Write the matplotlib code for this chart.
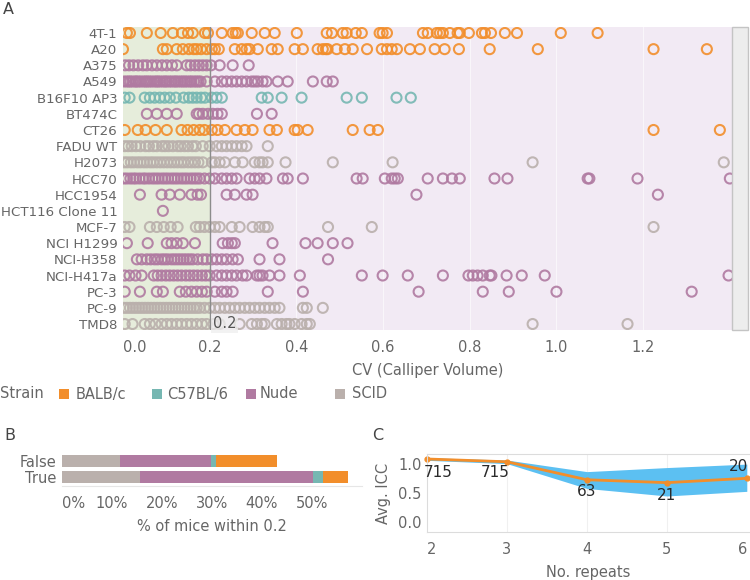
import matplotlib
matplotlib.use("Agg")
import matplotlib.pyplot as plt
from matplotlib.patches import Rectangle

# ---------------------------------------------------------------
# data
cell_lines = ["4T-1", "A20", "A375", "A549", "B16F10 AP3", "BT474C", "CT26",
              "FADU WT", "H2073", "HCC70", "HCC1954", "HCT116 Clone 11",
              "MCF-7", "NCI H1299", "NCI-H358", "NCI-H417a", "PC-3", "PC-9", "TMD8"]
line_strain = ["BALB/c", "BALB/c", "Nude", "Nude", "C57BL/6", "Nude", "BALB/c",
               "SCID", "SCID", "Nude", "Nude", "Nude",
               "SCID", "Nude", "Nude", "Nude", "Nude", "SCID", "SCID"]

cv_4t1 = [0.009, 0.016, 0.055, 0.087, 0.115, 0.136, 0.150, 0.161, 0.189, 0.196, 0.228, 0.253, 0.260,
          0.265, 0.297, 0.327, 0.350, 0.401, 0.470, 0.482, 0.507, 0.516, 0.537, 0.551, 0.592, 0.599,
          0.609, 0.692, 0.703, 0.724, 0.731, 0.738, 0.754, 0.772, 0.777, 0.798, 0.828, 0.835, 0.849,
          0.881, 0.909, 1.010, 1.095]
cv_a20 = [0.000, 0.092, 0.101, 0.124, 0.138, 0.152, 0.163, 0.170, 0.180, 0.193, 0.205, 0.212, 0.221,
          0.258, 0.274, 0.285, 0.292, 0.311, 0.343, 0.357, 0.396, 0.415, 0.449, 0.461, 0.468, 0.472,
          0.493, 0.512, 0.530, 0.563, 0.597, 0.609, 0.620, 0.632, 0.662, 0.685, 0.719, 0.742, 0.775,
          0.846, 0.957, 1.224, 1.347]
cv_a375 = [0.005, 0.014, 0.024, 0.035, 0.046, 0.055, 0.067, 0.078, 0.090, 0.101, 0.113, 0.124, 0.147,
           0.156, 0.166, 0.175, 0.184, 0.193, 0.203, 0.223, 0.253, 0.290]
cv_a549 = [0.002, 0.008, 0.013, 0.017, 0.022, 0.028, 0.031, 0.036, 0.041, 0.047, 0.052, 0.056, 0.061,
           0.066, 0.072, 0.077, 0.081, 0.086, 0.092, 0.097, 0.101, 0.107, 0.112, 0.118, 0.122, 0.127,
           0.133, 0.138, 0.143, 0.148, 0.154, 0.158, 0.164, 0.169, 0.174, 0.179, 0.193, 0.212, 0.228,
           0.239, 0.251, 0.262, 0.274, 0.285, 0.297, 0.304, 0.311, 0.322, 0.331, 0.357, 0.380, 0.438,
           0.470, 0.484]
cv_b16f10 = [0.004, 0.015, 0.050, 0.062, 0.073, 0.085, 0.096, 0.108, 0.122, 0.140, 0.152, 0.161, 0.170,
             0.180, 0.189, 0.205, 0.216, 0.228, 0.320, 0.334, 0.366, 0.412, 0.516, 0.551, 0.631, 0.664]
cv_bt474c = [0.055, 0.078, 0.101, 0.124, 0.170, 0.175, 0.184, 0.196, 0.207, 0.218, 0.228, 0.309, 0.343]
cv_ct26 = [0.004, 0.034, 0.052, 0.075, 0.101, 0.135, 0.149, 0.163, 0.177, 0.188, 0.205, 0.218, 0.235,
           0.262, 0.281, 0.299, 0.338, 0.355, 0.396, 0.403, 0.426, 0.530, 0.569, 0.588, 1.224, 1.377]
cv_fadu = [0.004, 0.012, 0.020, 0.030, 0.040, 0.052, 0.060, 0.070, 0.078, 0.090, 0.097, 0.105, 0.115,
           0.126, 0.133, 0.142, 0.150, 0.160, 0.168, 0.184, 0.200, 0.216, 0.228, 0.239, 0.251, 0.262,
           0.274, 0.285, 0.334]
cv_h2073 = [0.003, 0.010, 0.018, 0.025, 0.033, 0.040, 0.048, 0.055, 0.063, 0.070, 0.078, 0.086, 0.094,
            0.102, 0.110, 0.118, 0.126, 0.134, 0.141, 0.150, 0.158, 0.166, 0.174, 0.184, 0.205, 0.212,
            0.223, 0.235, 0.258, 0.276, 0.304, 0.315, 0.322, 0.334, 0.375, 0.484, 0.622, 0.945, 1.386]
cv_hcc70 = [0.002, 0.009, 0.017, 0.024, 0.030, 0.038, 0.046, 0.052, 0.060, 0.068, 0.075, 0.082, 0.090,
            0.097, 0.104, 0.112, 0.119, 0.126, 0.134, 0.141, 0.148, 0.156, 0.163, 0.170, 0.177, 0.188,
            0.200, 0.212, 0.228, 0.239, 0.251, 0.262, 0.292, 0.304, 0.315, 0.331, 0.369, 0.380, 0.415,
            0.539, 0.553, 0.604, 0.620, 0.627, 0.634, 0.703, 0.738, 0.759, 0.777, 0.857, 0.887, 1.072,
            1.076, 1.187, 1.400]
cv_hcc1954 = [0.039, 0.089, 0.108, 0.131, 0.158, 0.172, 0.180, 0.239, 0.258, 0.285, 0.299, 0.677, 1.234]
cv_hct116 = [0.092]
cv_mcf7 = [0.004, 0.015, 0.062, 0.078, 0.094, 0.110, 0.126, 0.168, 0.177, 0.188, 0.200, 0.212, 0.223,
           0.251, 0.269, 0.299, 0.315, 0.327, 0.334, 0.473, 0.574, 1.224]
cv_h1299 = [0.009, 0.057, 0.101, 0.112, 0.124, 0.138, 0.166, 0.230, 0.242, 0.251, 0.258, 0.345, 0.421,
            0.449, 0.484, 0.518]
cv_h358 = [0.032, 0.043, 0.055, 0.064, 0.073, 0.080, 0.089, 0.096, 0.103, 0.112, 0.119, 0.126, 0.133,
           0.140, 0.147, 0.154, 0.161, 0.172, 0.184, 0.193, 0.205, 0.216, 0.228, 0.239, 0.253, 0.265,
           0.315, 0.361, 0.473]
cv_h417a = [0.004, 0.015, 0.029, 0.043, 0.071, 0.080, 0.089, 0.099, 0.108, 0.117, 0.126, 0.135, 0.145,
            0.154, 0.163, 0.172, 0.182, 0.191, 0.200, 0.216, 0.228, 0.239, 0.251, 0.262, 0.276, 0.285,
            0.309, 0.315, 0.322, 0.338, 0.361, 0.408, 0.551, 0.599, 0.657, 0.738, 0.797, 0.807, 0.818,
            0.830, 0.846, 0.850, 0.885, 0.920, 0.973, 1.397]
cv_pc3 = [0.004, 0.039, 0.078, 0.092, 0.131, 0.145, 0.158, 0.170, 0.182, 0.193, 0.212, 0.228, 0.239,
          0.253, 0.334, 0.415, 0.682, 0.830, 0.890, 1.000, 1.312]
cv_pc9 = [0.002, 0.009, 0.016, 0.023, 0.030, 0.037, 0.044, 0.051, 0.058, 0.065, 0.072, 0.079, 0.086,
          0.093, 0.100, 0.107, 0.114, 0.121, 0.128, 0.135, 0.142, 0.149, 0.156, 0.163, 0.170, 0.177,
          0.188, 0.200, 0.212, 0.223, 0.235, 0.246, 0.258, 0.269, 0.281, 0.292, 0.304, 0.315, 0.327,
          0.338, 0.350, 0.361, 0.415, 0.424, 0.461]
cv_tmd8 = [0.004, 0.022, 0.050, 0.062, 0.075, 0.089, 0.101, 0.112, 0.124, 0.135, 0.147, 0.158, 0.170,
           0.182, 0.193, 0.209, 0.223, 0.269, 0.297, 0.309, 0.320, 0.327, 0.355, 0.366, 0.377, 0.384,
           0.396, 0.412, 0.424, 0.431, 0.945, 1.164]

cv_rows = [cv_4t1, cv_a20, cv_a375, cv_a549, cv_b16f10, cv_bt474c, cv_ct26, cv_fadu, cv_h2073,
           cv_hcc70, cv_hcc1954, cv_hct116, cv_mcf7, cv_h1299, cv_h358, cv_h417a, cv_pc3, cv_pc9, cv_tmd8]

# panel B: % of mice, stacked by strain
strains_b = ["SCID", "Nude", "C57BL/6", "BALB/c"]
within_labels = ["False", "True"]
pct_false = [11.6, 18.2, 1.0, 12.2]
pct_true = [15.6, 34.6, 2.0, 5.0]

# panel C: avg ICC vs number of repeats
repeats = [2, 3, 4, 5, 6]
icc_mean = [1.078, 1.030, 0.720, 0.670, 0.745]
icc_upper = [1.100, 1.060, 0.860, 0.930, 0.990]
icc_lower = [1.055, 0.998, 0.570, 0.440, 0.520]
n_combos = ["715", "715", "63", "21", "20"]

# ---------------------------------------------------------------
strain_colors = {"BALB/c": "#F28E2B", "C57BL/6": "#76B7B2", "Nude": "#B07AA1", "SCID": "#BAB0AC"}
txt = "#666666"
W, H = 750, 580

plt.rcParams['font.family'] = ['DejaVu Sans']
fig = plt.figure(figsize=(7.5, 5.8), dpi=100)


def fbox(x0, y0, x1, y1):
    # pixel box -> figure fraction
    return [x0 / W, 1 - y1 / H, (x1 - x0) / W, (y1 - y0) / H]


# ---------------- panel A ----------------
axA = fig.add_axes(fbox(123, 27, 732, 330))
axA.set_xlim(0, 1.405)
axA.set_ylim(len(cell_lines) - 1 + 0.37, -0.37)
axA.axvspan(0, 0.2, color="#e6eddb", zorder=0, lw=0)
axA.axvspan(0.2, 1.405, color="#f2eaf4", zorder=0, lw=0)
for g in [0.4, 0.6, 0.8, 1.0, 1.2]:
    axA.axvline(g, color="white", lw=0.8, alpha=0.6, zorder=1)
axA.axvline(0.2, color="#8c8c8c", lw=1, zorder=3)

for i, vals in enumerate(cv_rows):
    axA.scatter(vals, [i] * len(vals), s=52, facecolors="none",
                edgecolors=strain_colors[line_strain[i]], linewidths=1.5, alpha=0.9, zorder=2)

axA.text(0.207, len(cell_lines) - 1 - 0.05, "0.2", fontsize=10.5, color="#555555", va="center",
         ha="left", zorder=4,
         bbox=dict(boxstyle="square,pad=0.15", fc="#eeeeee", ec="none", alpha=0.75))

for s in axA.spines.values():
    s.set_visible(False)
axA.set_yticks(range(len(cell_lines)))
axA.set_yticklabels(cell_lines, fontsize=9.6, color=txt)
axA.set_xticks([0, 0.2, 0.4, 0.6, 0.8, 1.0, 1.2])
axA.set_xticklabels(["0.0", "0.2", "0.4", "0.6", "0.8", "1.0", "1.2"], fontsize=10.5, color=txt)
axA.tick_params(length=0, pad=4)
axA.tick_params(axis="x", pad=7)
axA.xaxis.get_major_ticks()[0].label1.set_horizontalalignment("left")
axA.set_xlabel("CV (Calliper Volume)", fontsize=10.5, color=txt, labelpad=6)

# grey strip on the right edge
fig.add_artist(Rectangle((732 / W, 1 - 330 / H), 16 / W, 303 / H, transform=fig.transFigure,
                         fc="#ededed", ec="#c4c4c4", lw=1))

fig.text(3 / W, 1 - 9 / H, "A", fontsize=11.5, color="#444444", va="center", ha="left")

# legend
ly = 1 - 394 / H
fig.text(0 / W, ly, "Strain", fontsize=10.5, color=txt, va="center", ha="left")
leg_x = [(59, 76), (152, 167), (246, 260), (335, 352)]
for (sx, tx), st in zip(leg_x, ["BALB/c", "C57BL/6", "Nude", "SCID"]):
    fig.add_artist(Rectangle((sx / W, 1 - 399 / H), 10 / W, 10 / H, transform=fig.transFigure,
                             fc=strain_colors[st], ec="none"))
    fig.text(tx / W, ly, st, fontsize=10.5, color=txt, va="center", ha="left")

# ---------------- panel B ----------------
axB = fig.add_axes(fbox(62, 452, 362, 486))
left_f = 0
left_t = 0
for j, st in enumerate(strains_b):
    axB.barh(0, pct_false[j] / 100, left=left_f, height=0.8, color=strain_colors[st], lw=0)
    axB.barh(1, pct_true[j] / 100, left=left_t, height=0.8, color=strain_colors[st], lw=0)
    left_f += pct_false[j] / 100
    left_t += pct_true[j] / 100
axB.set_xlim(0, 0.6)
axB.set_ylim(1.6, -0.6)
axB.set_yticks([0, 1])
axB.set_yticklabels(within_labels, fontsize=10.5, color=txt)
axB.set_xticks([0, 0.1, 0.2, 0.3, 0.4, 0.5])
axB.set_xticklabels(["0%", "10%", "20%", "30%", "40%", "50%"], fontsize=10.5, color=txt)
axB.tick_params(length=0, pad=4)
axB.tick_params(axis="x", pad=7)
axB.xaxis.get_major_ticks()[0].label1.set_horizontalalignment("left")
for k in ["top", "right", "left"]:
    axB.spines[k].set_visible(False)
axB.spines["bottom"].set_color("#e6e6e6")
axB.set_xlabel("% of mice within 0.2", fontsize=10.5, color=txt, labelpad=6)
fig.text(4 / W, 1 - 436 / H, "B", fontsize=11.5, color="#444444", va="center", ha="left")

# ---------------- panel C ----------------
axC = fig.add_axes(fbox(427, 454, 750, 532))
axC.set_xlim(2, 6.04)
axC.set_ylim(-0.181, 1.164)
for g in [3, 4, 5]:
    axC.axvline(g, color="#f0f0f0", lw=0.8, zorder=0)
axC.fill_between(repeats, icc_lower, icc_upper, color="#5cc0f2", lw=0, zorder=1)
axC.plot(repeats, icc_mean, color="#F28E2B", lw=2, marker="o", ms=3.5, zorder=2, clip_on=False)
txt_pos = [(2.14, 0.853), (2.85, 0.853), (4.0, 0.51), (5.0, 0.457), (5.89, 0.957)]
for (tx, ty), lab in zip(txt_pos, n_combos):
    axC.text(tx, ty, lab, fontsize=11, color="#2a2a2a", ha="center", va="center", zorder=3)
axC.set_xticks(repeats)
axC.set_xticklabels([str(r) for r in repeats], fontsize=10.5, color=txt)
axC.set_yticks([0, 0.5, 1.0])
axC.set_yticklabels(["0.0", "0.5", "1.0"], fontsize=10.5, color=txt)
axC.tick_params(length=0, pad=4)
axC.tick_params(axis="x", pad=7)
xt = axC.xaxis.get_major_ticks()
xt[0].label1.set_horizontalalignment("left")
xt[-1].label1.set_horizontalalignment("right")
axC.spines["right"].set_visible(False)
for k in ["top", "left", "bottom"]:
    axC.spines[k].set_color("#dcdcdc")
axC.set_ylabel("Avg. ICC", fontsize=10.5, color=txt, labelpad=5)
axC.set_xlabel("No. repeats", fontsize=10.5, color=txt, labelpad=6)
fig.text(372 / W, 1 - 436 / H, "C", fontsize=11.5, color="#444444", va="center", ha="left")

fig.savefig("out.png", dpi=100)
